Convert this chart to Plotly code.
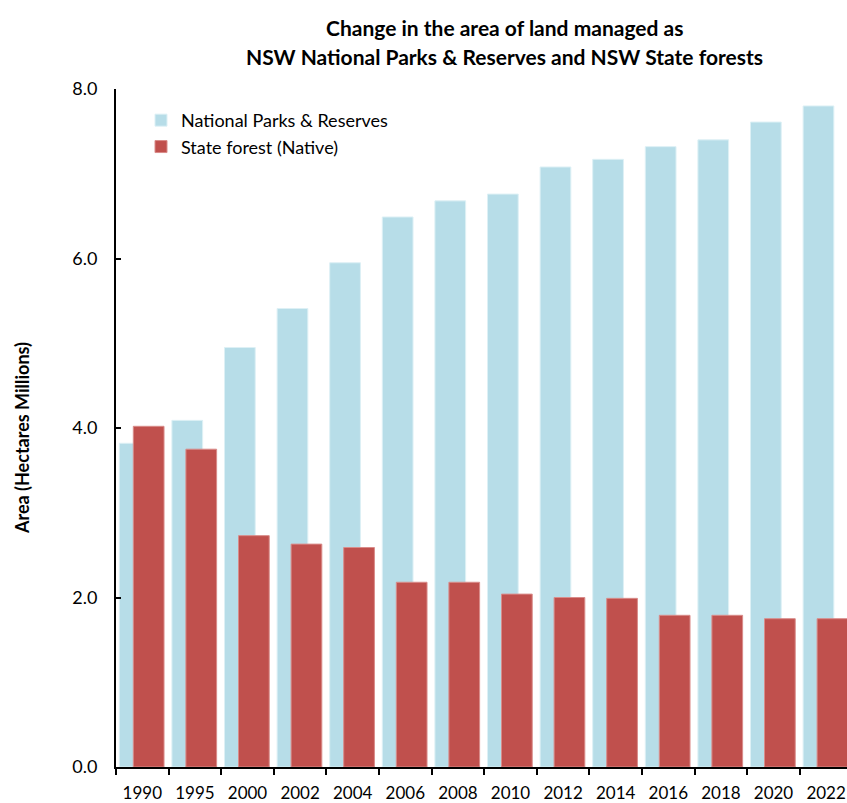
import plotly.graph_objects as go

# Area of land managed (million hectares)
years = ["1990", "1995", "2000", "2002", "2004", "2006", "2008",
         "2010", "2012", "2014", "2016", "2018", "2020", "2022"]
national_parks = [3.82, 4.09, 4.95, 5.41, 5.95, 6.49, 6.68,
                  6.76, 7.08, 7.17, 7.32, 7.40, 7.61, 7.80]
state_forest = [4.02, 3.75, 2.73, 2.63, 2.59, 2.18, 2.18,
                2.04, 2.00, 1.99, 1.79, 1.79, 1.75, 1.75]

FONT = "Lato, 'Open Sans', Arial, sans-serif"
BLUE = "#B7DDE8"
RED = "#C0504D"

W, H = 847, 803
L, R, T, B = 116, 0, 89, 34
pw, ph = W - L - R, H - T - B
cat_px = 52.6  # width of one category in pixels


def px_x(p):
    return (p - L) / pw


def px_y(p):
    return (H - B - p) / ph


fig = go.Figure()
fig.add_trace(go.Bar(
    x=years, y=national_parks, name="National Parks & Reserves",
    marker=dict(color=BLUE, line=dict(color="#DDF0F5", width=1)),
    offset=-0.437, width=0.584, legendgroup="a",
))
fig.add_trace(go.Bar(
    x=years, y=state_forest, name="State forest (Native)",
    marker=dict(color=RED, line=dict(color="#D98C8A", width=1)),
    offset=-0.171, width=0.584, legendgroup="b",
))

fig.update_layout(
    width=W, height=H,
    margin=dict(l=L, r=R, t=T, b=B, pad=0),
    paper_bgcolor="white", plot_bgcolor="white",
    barmode="overlay",
    font=dict(family=FONT, size=17, color="#000000"),
    showlegend=True,
    legend=dict(
        x=px_x(141), y=px_y(102), xanchor="left", yanchor="top",
        font=dict(size=18, family=FONT, color="#000000"),
        bgcolor="rgba(0,0,0,0)", borderwidth=0,
        tracegroupgap=13, traceorder="normal",
    ),
    xaxis=dict(
        type="category",
        range=[-0.5, -0.5 + pw / cat_px],
        showline=True, linecolor="black", linewidth=2,
        ticks="outside", ticklen=6, tickwidth=2, tickcolor="black",
        tickson="boundaries", showgrid=False, zeroline=False,
        ticklabelstandoff=10,
        tickfont=dict(size=17, family=FONT, color="#000000"),
    ),
    yaxis=dict(
        range=[0, 8], dtick=2, tickformat=".1f",
        showline=True, linecolor="black", linewidth=2,
        ticks="inside", ticklen=5, tickwidth=2, tickcolor="black",
        showgrid=False, zeroline=False,
        ticklabelstandoff=13,
        tickfont=dict(size=18, family=FONT, color="#000000"),
    ),
    annotations=[
        dict(text="<b>Change in the area of land managed as</b>",
             xref="paper", yref="paper", x=px_x(504), y=px_y(27),
             xanchor="center", yanchor="middle", showarrow=False,
             font=dict(size=21, family=FONT, color="#000000")),
        dict(text="<b>NSW National Parks & Reserves and NSW State forests</b>",
             xref="paper", yref="paper", x=px_x(504), y=px_y(56),
             xanchor="center", yanchor="middle", showarrow=False,
             font=dict(size=21, family=FONT, color="#000000")),
        dict(text="<b>Area (Hectares Millions)</b>",
             xref="paper", yref="paper", x=px_x(22), y=px_y(439),
             xanchor="center", yanchor="middle", textangle=-90,
             showarrow=False,
             font=dict(size=18, family=FONT, color="#000000")),
    ],
)

fig.write_html("out.html")
